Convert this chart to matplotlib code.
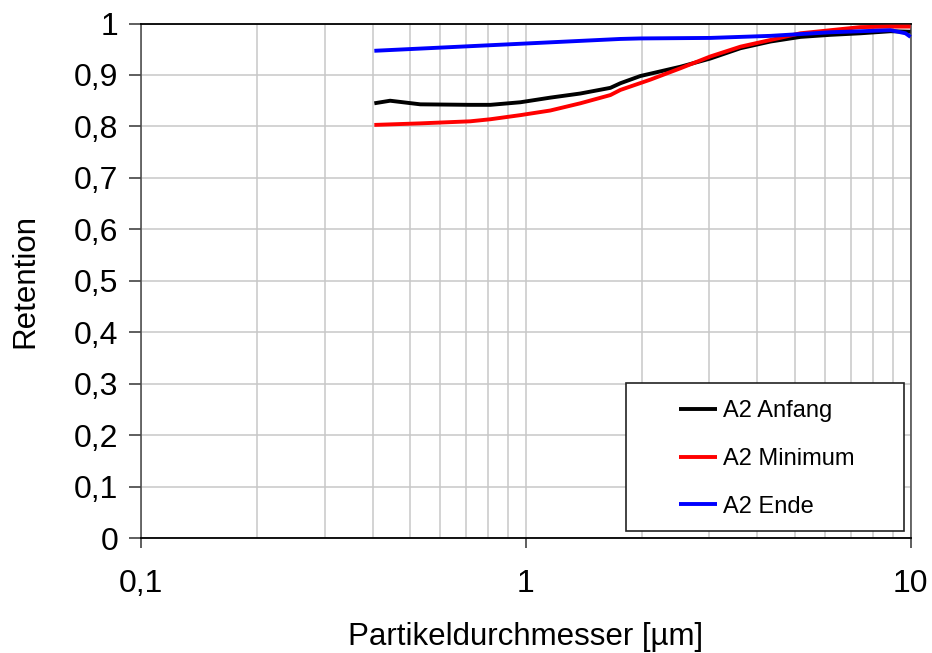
import matplotlib
matplotlib.use("Agg")
import matplotlib.pyplot as plt
from matplotlib.ticker import FixedLocator, FuncFormatter, LogLocator, NullFormatter
from matplotlib.patches import Rectangle

plt.rcParams['font.family'] = ['Liberation Sans', 'DejaVu Sans']

# Particle diameter [µm] and retention values per series
x_anfang = [0.404, 0.444, 0.532, 0.717, 0.809, 0.968, 1.158, 1.386, 1.659, 1.762, 1.985,
            2.522, 3.018, 3.614, 4.324, 5.175, 6.193, 7.413, 8.872, 10.0]
y_anfang = [0.845, 0.850, 0.843, 0.842, 0.842, 0.847, 0.856, 0.864, 0.875, 0.884, 0.898,
            0.916, 0.932, 0.952, 0.965, 0.974, 0.978, 0.981, 0.985, 0.984]

x_minimum = [0.404, 0.532, 0.717, 0.809, 0.968, 1.158, 1.386, 1.659, 1.762, 2.108,
             2.522, 3.018, 3.614, 4.324, 5.175, 6.193, 7.413, 8.872, 10.0]
y_minimum = [0.803, 0.806, 0.810, 0.814, 0.822, 0.831, 0.845, 0.861, 0.871, 0.891,
             0.913, 0.936, 0.955, 0.968, 0.981, 0.987, 0.993, 0.994, 0.994]

x_ende = [0.404, 1.762, 1.985, 3.018, 4.324, 6.193, 7.413, 8.872, 9.70, 10.0]
y_ende = [0.947, 0.970, 0.971, 0.972, 0.976, 0.983, 0.985, 0.987, 0.981, 0.974]

series_labels = ["A2 Anfang", "A2 Minimum", "A2 Ende"]
series_colors = ["#000000", "#ff0000", "#0000ff"]

y_ticks = [0, 0.1, 0.2, 0.3, 0.4, 0.5, 0.6, 0.7, 0.8, 0.9, 1]
x_ticks = [0.1, 1, 10]

fig = plt.figure(figsize=(9.32, 6.53), dpi=100)
ax = fig.add_axes([0.1513, 0.1757, 0.8257, 0.7883])

ax.set_xscale('log')
ax.set_xlim(0.1, 10)
ax.set_ylim(0, 1)

ax.xaxis.set_major_locator(FixedLocator(x_ticks))
ax.xaxis.set_minor_locator(LogLocator(base=10, subs=range(2, 10)))
ax.xaxis.set_minor_formatter(NullFormatter())
ax.yaxis.set_major_locator(FixedLocator(y_ticks))


def comma_fmt(v, pos):
    return ('%g' % v).replace('.', ',')


ax.xaxis.set_major_formatter(FuncFormatter(comma_fmt))
ax.yaxis.set_major_formatter(FuncFormatter(comma_fmt))

ax.grid(which='major', axis='both', color='#c8c8c8', linewidth=1.1)
ax.grid(which='minor', axis='x', color='#c8c8c8', linewidth=1.1)
ax.set_axisbelow(True)

ax.tick_params(axis='both', which='major', direction='out', labelsize=23,
               color='#333333', width=1.1)
ax.tick_params(axis='y', which='major', length=8.5, pad=8)
ax.tick_params(axis='x', which='major', length=7, pad=15)
ax.tick_params(axis='x', which='minor', length=0)

for side in ['left', 'right']:
    ax.spines[side].set_color('#444444')
    ax.spines[side].set_linewidth(1.1)
for side in ['top', 'bottom']:
    ax.spines[side].set_color('#000000')
    ax.spines[side].set_linewidth(1.3)

handles = []
for xs, ys, lab, col in zip([x_anfang, x_minimum, x_ende],
                            [y_anfang, y_minimum, y_ende],
                            series_labels, series_colors):
    h, = ax.plot(xs, ys, color=col, linewidth=2.8, label=lab, clip_on=False,
                 solid_capstyle='butt', zorder=3)
    handles.append(h)

ax.set_xlabel('Partikeldurchmesser [µm]', fontsize=22.5, labelpad=17)
ax.set_ylabel('Retention', fontsize=22.5, labelpad=24)

# legend box
box_x0, box_y0, box_x1, box_y1 = 0.630, 0.0148, 0.9915, 0.302
ax.add_patch(Rectangle((box_x0, box_y0), box_x1 - box_x0, box_y1 - box_y0,
                       transform=ax.transAxes, facecolor='white', edgecolor='#222222',
                       linewidth=1.2, zorder=4))
leg = ax.legend(handles=handles, frameon=False, fontsize=17,
                loc='center', bbox_to_anchor=((box_x0 + box_x1) / 2 + 0.002,
                                              (box_y0 + box_y1) / 2 - 0.004),
                handlelength=1.6, handletextpad=0.25, labelspacing=1.1)
leg.set_zorder(5)

fig.savefig('out.png', dpi=100)
